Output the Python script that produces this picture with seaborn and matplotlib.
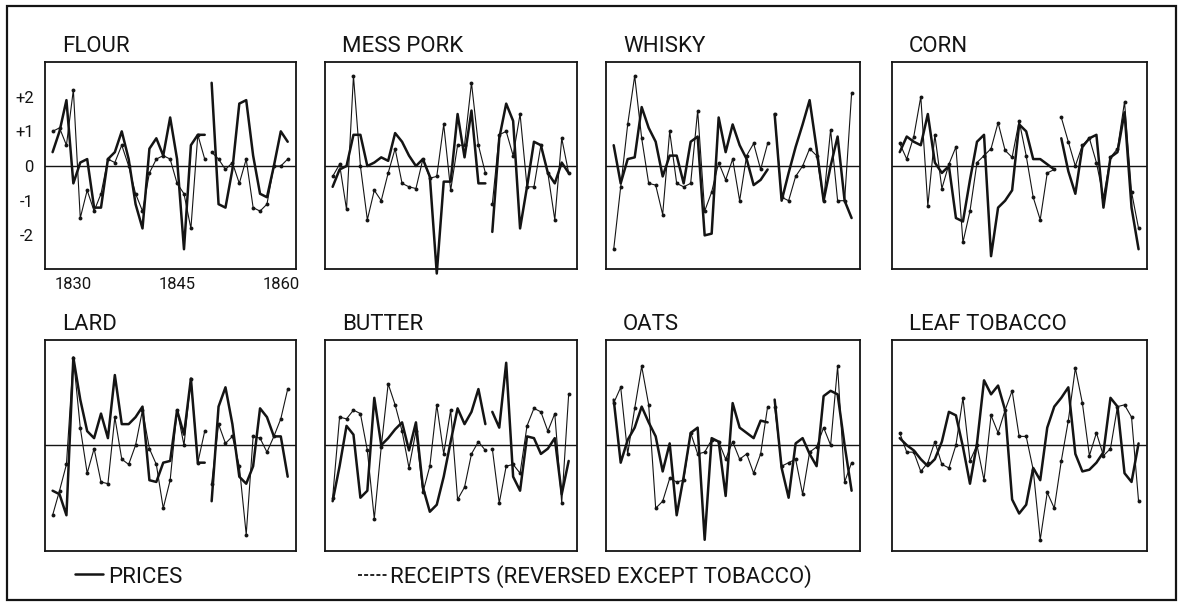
import pandas as pd
import matplotlib
matplotlib.use('Agg')
import matplotlib.pyplot as plt
from matplotlib.lines import Line2D
from matplotlib.patches import Rectangle
import seaborn as sns

# annual deviations, 1827-1861 (break between 1849 and 1850 except tobacco)
years = list(range(1827, 1862))
split_year = 1850

flour_prices = [0.4, 1.0, 1.9, -0.5, 0.1, 0.2, -1.2, -1.2, 0.2, 0.4, 1.0, 0.2, -1.1, -1.8, 0.5, 0.8, 0.3, 1.4, 0.2, -2.4, 0.6, 0.9, 0.9,
                2.4, -1.1, -1.2, -0.1, 1.8, 1.9, 0.3, -0.8, -0.9, 0.0, 1.0, 0.7]
flour_receipts = [1.0, 1.1, 0.6, 2.2, -1.5, -0.7, -1.3, -0.8, 0.2, 0.1, 0.6, 0.0, -0.8, -1.3, -0.2, 0.2, 0.3, 0.2, -0.5, -0.8, -1.8, 0.9, 0.2,
                  0.4, 0.2, -0.1, 0.1, -0.5, 0.2, -1.2, -1.3, -1.1, 0.0, 0.0, 0.2]

pork_prices = [-0.6, -0.1, 0.0, 0.9, 0.9, 0.0, 0.1, 0.25, 0.15, 0.95, 0.7, 0.3, 0.0, 0.2, -0.3, -3.1, -0.45, -0.45, 1.5, 0.25, 1.6, -0.5, -0.5,
               -1.9, 0.8, 1.8, 1.3, -1.8, -0.6, 0.7, 0.6, -0.2, -0.5, 0.1, -0.2]
pork_receipts = [-0.3, 0.05, -1.25, 2.6, 0.0, -1.55, -0.7, -1.0, -0.2, 0.5, -0.5, -0.6, -0.65, 0.2, -0.35, -0.3, 1.2, -0.7, 0.6, 0.6, 2.4, 0.6, -0.2,
                 -1.1, 0.9, 1.0, 0.3, 1.5, -0.6, -0.6, 0.6, -0.2, -1.55, 0.8, -0.2]

whisky_prices = [0.6, -0.5, 0.2, 0.25, 1.7, 1.1, 0.7, -0.3, 0.3, 0.3, -0.5, 0.7, 0.85, -2.0, -1.95, 1.4, 0.4, 1.2, 0.6, 0.2, -0.55, -0.4, -0.1,
                 1.5, -1.0, -0.2, 0.55, 1.2, 1.9, 0.5, -1.0, 0.0, 0.85, -1.0, -1.5]
whisky_receipts = [-2.4, -0.6, 1.2, 2.6, 0.8, -0.5, -0.55, -1.4, 1.0, -0.5, -0.6, -0.5, 1.6, -1.3, -0.75, 0.1, -0.4, 0.2, -1.0, 0.3, 0.65, -0.1, 0.65,
                   1.5, -0.9, -1.0, -0.3, 0.0, 0.5, 0.3, -1.0, 1.05, -1.0, -1.0, 2.1]

corn_prices = [0.4, 0.85, 0.7, 0.6, 1.5, 0.1, -0.2, 0.0, -1.5, -1.6, -0.4, 0.7, 0.9, -2.6, -1.2, -1.0, -0.7, 1.2, 1.0, 0.2, 0.2, 0.05, -0.1,
               0.8, -0.15, -0.8, 0.55, 0.8, 0.9, -1.2, 0.25, 0.4, 1.55, -1.2, -2.4]
corn_receipts = [0.65, 0.2, 0.85, 2.0, -1.15, 0.9, -0.65, 0.05, 0.55, -2.2, -1.3, 0.1, 0.3, 0.5, 1.25, 0.45, 0.25, 1.3, 0.3, -0.9, -1.55, -0.2, -0.1,
                 1.4, 0.7, 0.0, 0.6, 0.8, 0.1, -0.9, 0.25, 0.5, 1.85, -0.75, -1.8]

lard_prices = [-1.3, -1.4, -2.0, 2.5, 1.3, 0.4, 0.2, 0.9, 0.2, 2.0, 0.6, 0.6, 0.8, 1.1, -1.0, -1.05, -0.5, -0.45, 1.0, 0.3, 1.9, -0.5, -0.5,
               -1.6, 1.1, 1.65, 0.6, -0.9, -1.1, -0.6, 1.05, 0.8, 0.25, 0.25, -0.9]
lard_receipts = [-2.0, -1.3, -0.55, 2.5, 0.5, -0.8, -0.1, -1.05, -1.1, 0.8, -0.4, -0.55, 0.0, 1.0, -0.1, -0.55, -1.8, -1.0, 1.0, 0.0, 1.9, -0.5, 0.4,
                 -1.1, 0.6, 0.05, 0.25, -0.6, -2.55, 0.25, 0.2, -0.2, 0.25, 0.75, 1.6]

butter_prices = [-1.6, -0.6, 0.55, 0.3, -1.5, -1.3, 1.35, 0.0, 0.2, 0.45, 0.65, -0.15, 0.65, -1.2, -1.9, -1.7, -0.9, 0.1, 1.05, 0.6, 0.95, 1.6, 0.6,
                 0.95, 0.5, 2.35, -0.9, -1.3, 0.25, 0.2, -0.25, -0.1, 0.2, -1.4, -0.45]
butter_receipts = [-1.5, 0.8, 0.75, 1.0, 0.9, -0.15, -2.1, -0.05, 1.75, 1.15, 0.4, -0.65, 0.4, -1.35, -0.6, 1.15, -0.25, 1.0, -1.55, -1.2, -0.25, 0.1, -0.15,
                   -0.1, -1.65, -0.6, -0.55, -0.8, 0.55, 1.05, 0.95, 0.4, 0.9, -1.65, 1.45]

oats_prices = [1.3, -0.5, 0.15, 0.5, 1.1, 0.65, 0.25, -0.75, 0.05, -2.0, -0.9, 0.35, 0.5, -2.7, 0.2, 0.1, -1.45, 1.2, 0.5, 0.35, 0.2, 0.7, 0.65,
               1.3, -0.65, -1.5, 0.05, 0.2, -0.25, -0.6, 1.4, 1.55, 1.45, 0.0, -1.3]
oats_receipts = [1.2, 1.65, -0.25, 1.05, 2.25, 1.15, -1.8, -1.6, -0.95, -1.05, -1.0, 0.35, -0.25, -0.2, 0.15, 0.1, -0.4, 0.1, -0.4, -0.25, -0.8, -0.25, 1.1,
                 1.1, -0.6, -0.5, -0.4, -1.4, -0.2, -0.05, 0.5, 0.0, 2.25, -1.05, -0.5]

tobacco_prices = [0.2, 0.0, -0.15, -0.4, -0.6, -0.4, 0.1, 0.95, 0.85, -0.05, -1.1, 0.05, 1.85, 1.45, 1.7, 1.0, -1.55, -1.95, -1.7, -0.65, -1.0, 0.5, 1.1,
                  1.35, 1.65, -0.25, -0.75, -0.7, -0.5, -0.2, 1.35, 1.1, -0.8, -1.05, 0.05]
tobacco_receipts = [0.35, -0.2, -0.2, -0.75, -0.5, 0.1, -0.55, -0.65, 0.0, 1.35, -0.45, 0.0, -1.0, 0.85, 0.35, 1.0, 1.55, 0.25, 0.25, -0.7, -2.7, -1.35, -1.8,
                    -0.45, 0.7, 2.2, 1.2, -0.3, 0.35, -0.3, -0.1, 1.1, 1.15, 0.8, -1.6]

titles = ['FLOUR', 'MESS PORK', 'WHISKY', 'CORN', 'LARD', 'BUTTER', 'OATS', 'LEAF TOBACCO']
prices = [flour_prices, pork_prices, whisky_prices, corn_prices,
          lard_prices, butter_prices, oats_prices, tobacco_prices]
receipts = [flour_receipts, pork_receipts, whisky_receipts, corn_receipts,
            lard_receipts, butter_receipts, oats_receipts, tobacco_receipts]

ytick_vals = [-2, -1, 0, 1, 2]
ytick_labels = ['-2', '-1', '0', '+1', '+2']
xtick_vals = [1830, 1835, 1840, 1845, 1850, 1855, 1860]
xtick_labels = ['1830', '', '', '1845', '', '', '1860']

# long table
rows = []
for name, p, r in zip(titles, prices, receipts):
    for yr, pv, rv in zip(years, p, r):
        seg = 0 if (name == 'LEAF TOBACCO' or yr < split_year) else 1
        rows.append((name, yr, 'PRICES', pv, seg))
        rows.append((name, yr, 'RECEIPTS', rv, seg))
df = pd.DataFrame(rows, columns=['commodity', 'year', 'series', 'value', 'seg'])

sns.set_style('white')
plt.rcParams['font.family'] = ['Roboto', 'DejaVu Sans']
ink = '#141414'

W, H = 1179, 603
fig = plt.figure(figsize=(W / 100, H / 100), dpi=100)

cols_px = [(45, 296), (325, 577), (606, 860), (892, 1147)]
rows_px = [(62, 269), (340, 551)]

for i, name in enumerate(titles):
    x0, x1 = cols_px[i % 4]
    y0, y1 = rows_px[i // 4]
    ax = fig.add_axes([x0 / W, 1 - y1 / H, (x1 - x0) / W, (y1 - y0) / H])
    d = df[df.commodity == name]
    sns.lineplot(data=d[d.series == 'PRICES'], x='year', y='value', units='seg', estimator=None,
                 color=ink, linewidth=1.8, ax=ax)
    sns.lineplot(data=d[d.series == 'RECEIPTS'], x='year', y='value', units='seg', estimator=None,
                 color=ink, linewidth=0.8, marker='o', markersize=2.8, markeredgewidth=0, ax=ax)
    for ln in ax.lines:
        ln.set_clip_on(False)
    ax.axhline(0, color=ink, linewidth=1.0, zorder=0)
    ax.set_xlim(1825.9, 1862.2)
    ax.set_ylim(-2.97 if i < 4 else -3.02, 3.0)
    ax.set_xticks(xtick_vals)
    ax.set_yticks(ytick_vals)
    ax.tick_params(direction='in', length=5, width=1.1, color=ink, labelsize=12, labelcolor=ink)
    ax.tick_params(axis='y', pad=8)
    ax.tick_params(axis='x', pad=6)
    if i == 0:
        ax.set_xticklabels(xtick_labels)
        ax.set_yticklabels(ytick_labels)
    else:
        ax.tick_params(labelleft=False, labelbottom=False)
    ax.set_xlabel('')
    ax.set_ylabel('')
    for s in ax.spines.values():
        s.set_color(ink)
        s.set_linewidth(1.3)
    ax.text(17 / (x1 - x0), 1 + 10 / (y1 - y0), name, transform=ax.transAxes,
            fontsize=16, color=ink, ha='left', va='baseline')

# legend drawn by hand below the panels
fig.add_artist(Line2D([75 / W, 103 / W], [1 - 574 / H] * 2, color=ink, linewidth=1.8))
fig.text(108 / W, 1 - 583 / H, 'PRICES', fontsize=16, color=ink, va='baseline')
fig.add_artist(Line2D([358 / W, 388 / W], [1 - 575 / H] * 2, color=ink, linewidth=1.3,
                      linestyle=(0, (2.2, 1.2))))
fig.text(390 / W, 1 - 583 / H, 'RECEIPTS (REVERSED EXCEPT TOBACCO)', fontsize=16, color=ink, va='baseline')

# outer frame
fig.add_artist(Rectangle((7 / W, 1 - 600 / H), 1169 / W, 594 / H, transform=fig.transFigure,
                         fill=False, edgecolor=ink, linewidth=1.6))

fig.savefig('out.png', dpi=100)
